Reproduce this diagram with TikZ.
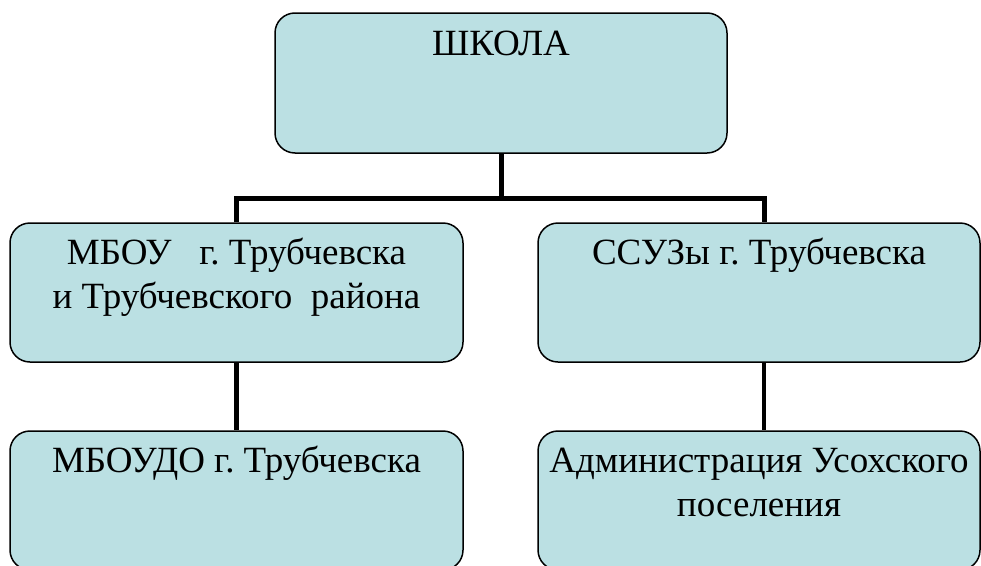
\documentclass[tikz,border=0pt]{standalone}
\usepackage{fontspec}
\setmainfont{Liberation Serif}
\usepackage{tikz}
\usetikzlibrary{positioning}
\definecolor{boxfill}{RGB}{187,224,227}
\frenchspacing
\newcommand{\boxtext}[2][41pt]{\parbox[t][139pt][t]{438pt}{\centering\rule{0pt}{#1}#2}}

\begin{document}
\begin{tikzpicture}[x=1pt, y=-1pt,
    unit/.style={draw, fill=boxfill, line width=1.5pt, rounded corners=20pt,
      inner sep=0pt, minimum height=139pt, font=\fontsize{37pt}{44pt}\selectfont},
    link/.style={line width=5pt},
    sublink/.style={line width=4.5pt}]
      \useasboundingbox (0,0) rectangle (981,565);

      \node[unit, minimum width=452pt, minimum height=140pt] (school) at (501,83) {\boxtext[42pt]{ШКОЛА}};
      \node[unit, minimum width=453pt] (mbou) at (236.5,292.5) {\boxtext{МБОУ\ \ \ г. Трубчевска\\и Трубчевского\ \ района}};
      \node[unit, minimum width=442pt] (ssuz) at (759,292.5) {\boxtext{ССУЗы г. Трубчевска}};
      \node[unit, minimum width=453pt] (mboudo) at (236.5,500.5) {\boxtext{МБОУДО г. Трубчевска}};
      \node[unit, minimum width=442pt] (admin) at (759,500.5) {\boxtext{Администрация Усохского\\поселения}};

      % branch points of the top connector
      \coordinate (jl) at (236.5,198.5);
      \coordinate (jr) at (764,198.5);

      \draw[link] (school.south) -- (school.south |- jl);
      \draw[link] (mbou.north -| jl) -- (jl) -- (jr) -- (ssuz.north -| jr);

      \draw[sublink] (mbou.south -| jl) -- (mboudo.north -| jl);
      \draw[sublink] (ssuz.south -| jr) -- (admin.north -| jr);
\end{tikzpicture}
\end{document}
